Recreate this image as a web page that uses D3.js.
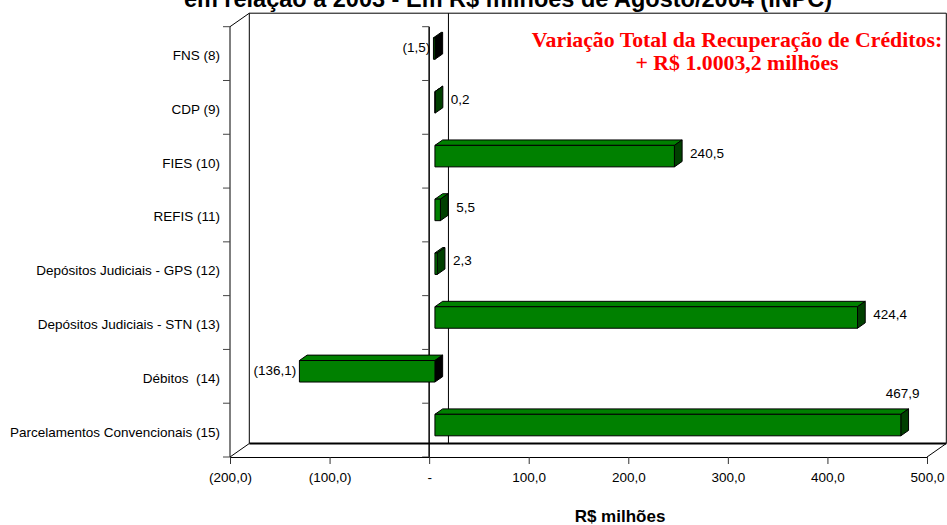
<!DOCTYPE html>
<html>
<head>
<meta charset="utf-8">
<script src="https://cdn.jsdelivr.net/npm/d3@7"></script>
<style>
  html, body { margin: 0; padding: 0; background: #fff; }
  svg { display: block; }
  text { font-family: Arial, "Liberation Sans", sans-serif; fill: #000; white-space: pre; }
</style>
</head>
<body>
<svg id="chart" width="947" height="525"></svg>
<script>
// Recovery of credits, change vs 2003 (R$ millions, Aug/2004 prices)
const categories = [
  "FNS (8)",
  "CDP (9)",
  "FIES (10)",
  "REFIS (11)",
  "Depósitos Judiciais - GPS (12)",
  "Depósitos Judiciais - STN (13)",
  "Débitos  (14)",
  "Parcelamentos Convencionais (15)"
];
const values = [-1.5, 0.2, 240.5, 5.5, 2.3, 424.4, -136.1, 467.9];
const xTicks = [-200, -100, 0, 100, 200, 300, 400, 500];

const titleText = "em relação a 2003 - Em R$ milhões de Agosto/2004 (INPC)";
const noteLines = ["Variação Total da Recuperação de Créditos:", "+ R$ 1.0003,2 milhões"];
const axisTitle = "R$ milhões";

// number format: comma decimal, negatives in parentheses, zero as dash
function fmt(v) {
  if (v === 0) return "-";
  const s = Math.abs(v).toFixed(1).replace(".", ",");
  return v < 0 ? "(" + s + ")" : s;
}

const svg = d3.select("#chart");
const labelSize = "13.5px";

// front plane of the plot and the 3D depth offset
const pLeft = 230, pRight = 927, pTop = 26.7, pBottom = 457;
const DX = 19.3, DY = -13.5;
const f1 = 0.30, f2 = 0.70;           // bar front / back depth fractions

const x = d3.scaleLinear().domain([-200, 500]).range([pLeft, pRight]);
const y = d3.scaleBand().domain(categories).range([pTop, pBottom]).padding(0);
const bw = y.bandwidth() * 0.4;

// title (its first part runs above the canvas)
svg.append("text")
  .attr("x", 508).attr("y", 7)
  .attr("text-anchor", "middle")
  .style("font-size", "23.5px").style("font-weight", "bold")
  .text(titleText);

const frame = svg.append("g").attr("fill", "none").attr("stroke", "#000");

// back wall outline
frame.append("path").attr("stroke-width", 1)
  .attr("d", `M${pLeft + DX},${pBottom + DY} V${pTop + DY} H${pRight + DX} V${pBottom + DY}`);
// floor back edge
frame.append("line").attr("stroke-width", 2.2)
  .attr("x1", pLeft + DX).attr("x2", pRight + DX)
  .attr("y1", pBottom + DY).attr("y2", pBottom + DY);
// depth edges
[[pLeft, pTop], [pLeft, pBottom], [pRight, pBottom]].forEach(([px, py]) => {
  frame.append("line").attr("x1", px).attr("y1", py)
    .attr("x2", px + DX).attr("y2", py + DY);
});
// zero line on back wall
frame.append("line")
  .attr("x1", x(0) + DX).attr("x2", x(0) + DX)
  .attr("y1", pTop + DY).attr("y2", pBottom + DY);

// category boundaries used for tick marks
const bounds = categories.map(c => y(c)).concat([pBottom]);

// left front axis and zero axis, both with ticks to the left
[pLeft, x(0)].forEach((ax, i) => {
  frame.append("line").attr("stroke-width", i === 1 ? 1.5 : 1)
    .attr("x1", ax).attr("x2", ax).attr("y1", pTop).attr("y2", pBottom);
  bounds.forEach(b => {
    frame.append("line").attr("stroke", "#444")
      .attr("x1", ax - 7).attr("x2", ax).attr("y1", b).attr("y2", b);
  });
});

// bottom value axis
const xAxis = d3.axisBottom(x).tickValues(xTicks).tickSize(7).tickPadding(8).tickFormat(fmt);
const gx = svg.append("g").attr("transform", `translate(0,${pBottom})`).call(xAxis);
gx.select(".domain").attr("stroke", "#000");
gx.selectAll(".tick line").attr("stroke", "#333");
gx.selectAll("text").style("font-size", labelSize).style("font-family", "Arial, 'Liberation Sans', sans-serif");

// category labels
svg.append("g").selectAll("text").data(categories).join("text")
  .attr("x", 220)
  .attr("y", c => y(c) + y.bandwidth() / 2 + 6.5)
  .attr("text-anchor", "end")
  .style("font-size", labelSize)
  .text(c => c);

// 3D bars
const data = categories.map((c, i) => ({ c, v: values[i] }));
const bars = svg.append("g").attr("stroke", "#000").attr("stroke-width", 1).attr("stroke-linejoin", "round");

data.forEach(d => {
  const cy = y(d.c) + y.bandwidth() / 2 - 1;
  const x0 = x(Math.min(0, d.v)), x1 = x(Math.max(0, d.v));
  const fx0 = x0 + f1 * DX, fx1 = x1 + f1 * DX;
  const fyT = cy - bw / 2 + f1 * DY, fyB = cy + bw / 2 + f1 * DY;
  const ddx = (f2 - f1) * DX, ddy = (f2 - f1) * DY;
  const g = bars.append("g");
  // top face
  g.append("path").attr("fill", "#008000")
    .attr("d", `M${fx0},${fyT} L${fx1},${fyT} L${fx1 + ddx},${fyT + ddy} L${fx0 + ddx},${fyT + ddy} Z`);
  // right end face
  g.append("path").attr("fill", d.v < 0 ? "#000000" : "#004000")
    .attr("d", `M${fx1},${fyT} L${fx1 + ddx},${fyT + ddy} L${fx1 + ddx},${fyB + ddy} L${fx1},${fyB} Z`);
  // front face
  g.append("rect").attr("fill", "#008000")
    .attr("x", fx0).attr("y", fyT).attr("width", Math.max(0.01, fx1 - fx0)).attr("height", fyB - fyT);

  // value label
  const midY = cy + (f1 + f2) / 2 * DY;
  const lab = svg.append("text").style("font-size", labelSize).text(fmt(d.v));
  if (d.v < 0) {
    lab.attr("text-anchor", "end")
      .attr("x", x0 + (f1 + f2) / 2 * DX - 7).attr("y", midY + 6);
  } else {
    const bx = x1 + f2 * DX;
    if (bx + 8 + 34 > pRight + DX) {
      // no room on the right: place above the bar end
      lab.attr("text-anchor", "end").attr("x", bx + 11).attr("y", fyT + ddy - 11);
    } else {
      lab.attr("text-anchor", "start").attr("x", bx + 8).attr("y", midY + 4.5);
    }
  }
});

// annotation
const note = svg.append("text")
  .attr("text-anchor", "middle")
  .style("font-family", "'Times New Roman', 'Liberation Serif', serif")
  .style("font-weight", "bold").style("font-size", "21.8px")
  .style("fill", "#ff0000");
noteLines.forEach((t, i) => {
  note.append("tspan").attr("x", 737).attr("y", 46.5 + i * 23.5).style("fill", "#ff0000").text(t);
});

// axis title
svg.append("text")
  .attr("x", 620).attr("y", 521.5)
  .attr("text-anchor", "middle")
  .style("font-size", "17px").style("font-weight", "bold")
  .text(axisTitle);
</script>
</body>
</html>
